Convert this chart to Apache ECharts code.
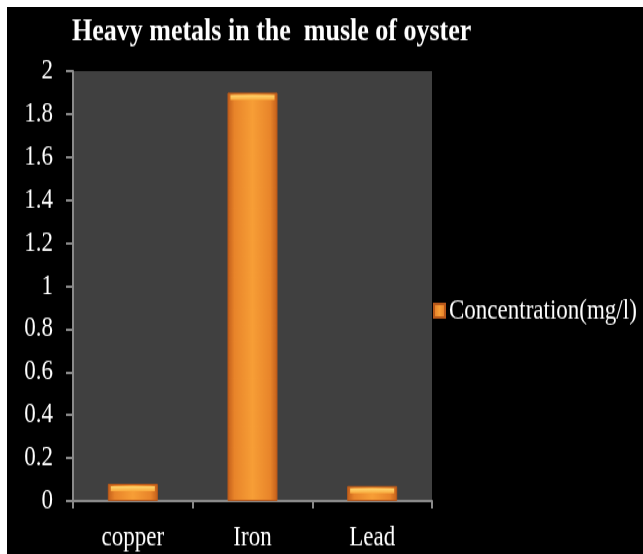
<!DOCTYPE html>
<html>
<head>
<meta charset="utf-8">
<script src="https://cdn.jsdelivr.net/npm/echarts@6/dist/echarts.min.js"></script>
<style>
  html, body { margin: 0; padding: 0; background: #ffffff; width: 643px; height: 554px; overflow: hidden; }
  #chart {
    position: absolute; left: 7px; top: 7px;
    width: 636px; height: 444px;
    transform: scaleY(1.232); transform-origin: 0 0;
  }
</style>
</head>
<body>
<div id="chart"></div>
<script>
// Heavy metal concentrations measured in oyster muscle
const categories = ['copper', 'Iron', 'Lead'];
const concentration = [0.08, 1.90, 0.07];
const seriesName = 'Concentration(mg/l)';
const titleText = 'Heavy metals in the  musle of oyster';

const serif = '"Liberation Serif", "DejaVu Serif", serif';

// Rounded-looking body of each bar: darker edges, bright centre
const barFill = new echarts.graphic.LinearGradient(0, 0, 1, 0, [
  { offset: 0, color: '#c25e1a' },
  { offset: 0.14, color: '#e8842a' },
  { offset: 0.5, color: '#f79e36' },
  { offset: 0.86, color: '#e8842a' },
  { offset: 1, color: '#c25e1a' }
]);

// Light bevel along the top of each bar
const capFill = new echarts.graphic.LinearGradient(0, 0, 0, 1, [
  { offset: 0, color: '#ffd870' },
  { offset: 1, color: '#f9a93c' }
]);

const chart = echarts.init(document.getElementById('chart'));
chart.setOption({
  backgroundColor: '#000000',
  animation: false,
  title: {
    text: titleText,
    left: 65, top: 7, padding: 0,
    textStyle: { color: '#ffffff', fontFamily: serif, fontWeight: 'bold', fontSize: 26 }
  },
  legend: {
    data: [seriesName],
    left: 426, top: 235, padding: 0,
    icon: 'rect', itemWidth: 11, itemHeight: 11, itemGap: 0,
    textStyle: { color: '#ffffff', fontFamily: serif, fontSize: 23, padding: [0, 0, 0, -1] }
  },
  grid: {
    left: 66, right: 211, top: 52, bottom: 43,
    show: true, backgroundColor: '#404040', borderWidth: 0
  },
  xAxis: {
    type: 'category',
    data: categories,
    axisLine: { lineStyle: { color: '#8a8a8a', width: 2 } },
    axisTick: { show: true, length: 6, lineStyle: { color: '#8a8a8a', width: 2 } },
    axisLabel: { color: '#ffffff', fontFamily: serif, fontSize: 23, margin: 18 }
  },
  yAxis: {
    type: 'value',
    min: 0, max: 2, interval: 0.2,
    axisLine: { show: true, lineStyle: { color: '#8a8a8a', width: 2 } },
    axisTick: { show: true, length: 7, lineStyle: { color: '#8a8a8a', width: 2 } },
    splitLine: { show: false },
    axisLabel: { color: '#ffffff', fontFamily: serif, fontSize: 23, margin: 20 }
  },
  series: [{
    name: seriesName,
    type: 'bar',
    data: concentration,
    barWidth: 50,
    itemStyle: {
      color: barFill,
      borderColor: '#b8581a',
      borderWidth: 1
    }
  }, {
    name: 'cap',
    type: 'pictorialBar',
    data: concentration,
    symbol: 'rect',
    symbolSize: [44, 4],
    symbolPosition: 'end',
    symbolOffset: [0, '50%'],
    itemStyle: { color: capFill },
    z: 3,
    silent: true
  }]
});
</script>
</body>
</html>
